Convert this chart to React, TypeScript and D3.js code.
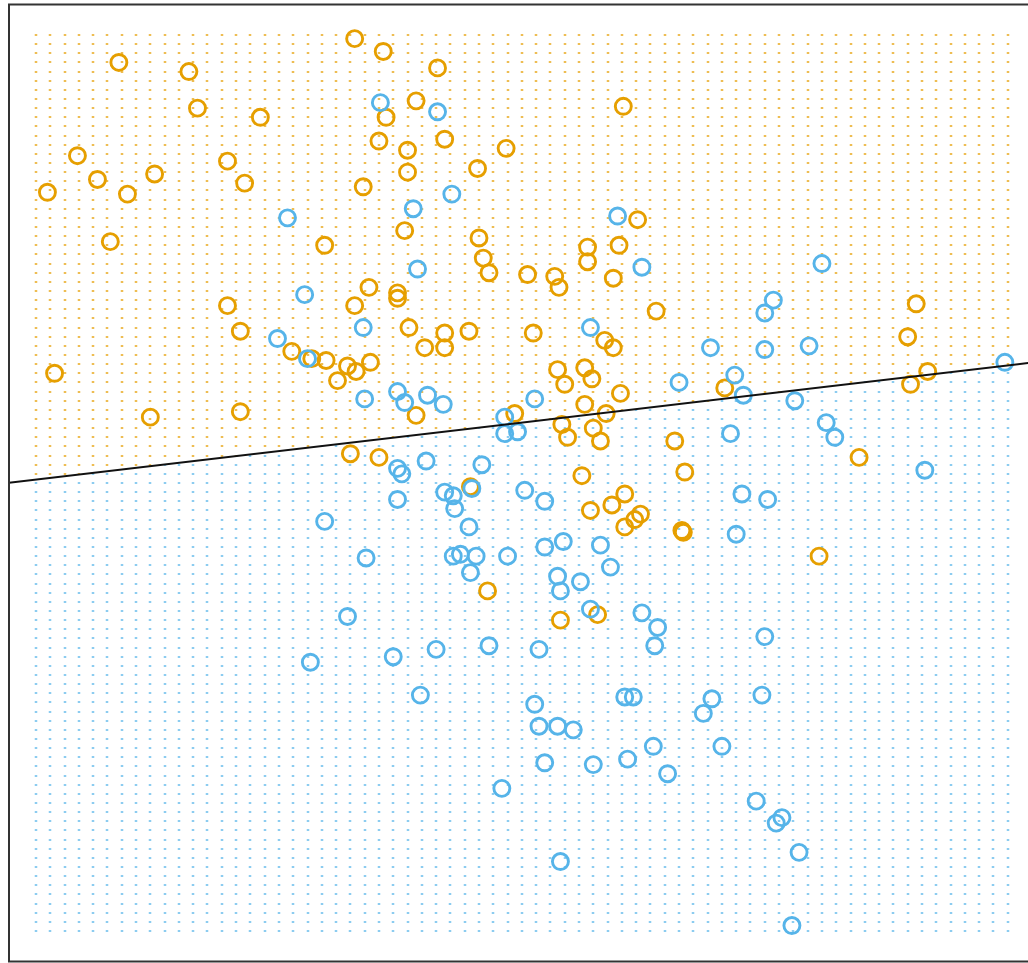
import React from "react";
import * as d3 from "d3";

// Class ORANGE (y = 1) observations: [x1, x2]
const orangeX1 = [
  -0.37, -0.17, -2.02, -1.53, 0.21, -1.47, -1.03, 0.06, 1.51, -0.15,
  -0.2, 0.26, 0.0, 0.0, 0.69, 0.49, -0.31, -2.31, -2.17, -2.52,
  -1.96, -1.77, -1.26, -1.14, -2.08, -0.58, -0.02, 0.5, 0.53, 0.57,
  0.84, 1.03, 1.06, 1.26, 1.26, 1.48, 1.44, 1.61, 1.74, -0.27,
  -0.07, -0.07, -0.37, -1.26, -1.17, 0.01, 0.12, 0.26, 0.26, 0.43,
  0.88, 1.38, 1.44, -0.81, -0.67, -0.57, -0.49, -0.42, -0.36, -0.26,
  -2.47, -1.8, -1.17, 0.06, -0.4, -0.2, 1.05, 1.1, 1.24, 1.29,
  1.49, 0.75, 1.24, 1.39, 1.08, 1.12, 1.3, 1.35, 1.87, 1.94,
  2.22, 1.22, 1.52, 1.43, 1.28, 1.63, 1.59, 1.52, 1.92, 1.93,
  0.44, 0.56, 1.07, 1.33, 2.88, 3.16, 3.56, 3.5, 3.64, 3.52,
];
const orangeX2 = [
  2.88, 2.81, 2.75, 2.7, 2.72, 2.5, 2.45, 2.54, 2.51, 2.45,
  2.32, 2.33, 2.27, 2.15, 2.28, 2.17, 2.07, 2.24, 2.11, 2.04,
  2.03, 2.14, 2.21, 2.09, 1.77, 1.75, 1.83, 1.79, 1.68, 1.6,
  1.59, 1.58, 1.52, 1.74, 1.66, 1.75, 1.57, 1.89, 1.39, 1.52,
  1.49, 1.46, 1.42, 1.42, 1.28, 1.3, 1.19, 1.27, 1.19, 1.28,
  1.27, 1.23, 1.19, 1.17, 1.13, 1.12, 1.01, 1.09, 1.06, 1.11,
  1.05, 0.81, 0.84, 0.82, 0.61, 0.59, 1.07, 0.99, 1.08, 1.02,
  0.94, 0.83, 0.88, 0.83, 0.77, 0.7, 0.75, 0.68, 0.68, 0.51,
  0.97, 0.49, 0.39, 0.33, 0.3, 0.28, 0.25, 0.21, 0.19, 0.18,
  0.43, -0.14, -0.3, -0.27, 0.05, 0.59, 1.43, 1.25, 1.06, 0.99,
];

// Class BLUE (y = 0) observations: [x1, x2]
const blueX1 = [
  -0.19, 0.21, -0.84, 0.31, 0.04, 1.47, 1.64, 0.07, -0.72, -0.91,
  -0.7, -0.31, -0.3, 1.28, 2.9, 2.56, 2.5, 2.12, 2.5, 2.81,
  2.29, 2.35, 1.9, 2.71, 2.93, 2.99, 2.26, 4.18, 3.62, -0.07,
  -0.02, 0.14, 0.25, 0.89, 0.68, 0.77, 0.68, -0.07, -0.04, 0.13,
  0.52, 0.45, -0.07, 0.26, 0.32, 0.33, 0.43, 0.82, 0.96, -0.58,
  -0.29, 0.32, 0.37, 0.48, 0.44, 0.7, 0.96, 1.09, 1.35, 1.42,
  1.05, 1.21, 1.07, 1.28, 2.34, 2.52, 2.3, 1.64, 1.75, 1.73,
  2.5, -0.42, -0.68, -0.1, 0.2, 0.57, 0.92, 0.09, 0.89, 0.92,
  1.05, 1.16, 1.52, 1.58, 2.13, 2.07, 2.48, 1.72, 2.2, 1.54,
  1.3, 0.96, 1.82, 0.66, 2.44, 2.62, 2.58, 2.74, 1.07, 2.69,
];
const blueX2 = [
  2.53, 2.48, 1.9, 2.03, 1.95, 1.91, 1.63, 1.62, 1.48, 1.24,
  1.13, 1.3, 0.91, 1.3, 1.65, 1.45, 1.38, 1.19, 1.18, 1.2,
  1.04, 0.93, 1.0, 0.9, 0.78, 0.7, 0.72, 1.11, 0.52, 0.95,
  0.89, 0.93, 0.88, 0.91, 0.81, 0.73, 0.72, 0.53, 0.5, 0.57,
  0.55, 0.42, 0.36, 0.4, 0.38, 0.31, 0.21, 0.41, 0.35, 0.24,
  0.04, 0.05, 0.06, 0.05, -0.04, 0.05, 0.1, 0.13, 0.11, -0.01,
  -0.06, -0.09, -0.14, -0.24, 0.39, 0.36, 0.17, -0.26, -0.34, -0.44,
  -0.39, -0.28, -0.53, -0.5, -0.46, -0.44, -0.46, -0.71, -0.76, -0.88,
  -0.88, -0.9, -0.72, -0.72, -0.73, -0.81, -0.71, -0.99, -0.99, -1.06,
  -1.09, -1.08, -1.14, -1.22, -1.29, -1.38, -1.41, -1.57, -1.62, -1.97,
];

// Prediction grid (69 x 99 lattice, like px1 / px2 of the mixture example)
const gridX1 = d3.range(69).map((i) => -2.6 + i * 0.1);
const gridX2 = d3.range(99).map((j) => -2.0 + j * 0.05);

// Linear regression decision boundary: x2 = intercept + slope * x1
const boundaryIntercept = 0.707;
const boundarySlope = 0.0919;

const ORANGE = "#E69F00";
const BLUE = "#56B4E9";

export default function App() {
  const W = 1028;
  const H = 963;
  const x = d3.scaleLinear().domain([-2.6, 4.2]).range([36, 1007.7]);
  const y = d3.scaleLinear().domain([-2.0, 2.9]).range([931, 35]);

  const frameLeft = 9;
  const frameTop = 4.5;
  const frameBottom = 961.5;

  const xMin = x.invert(frameLeft);
  const xMax = x.invert(W + 20);
  const boundary = (v: number) => boundaryIntercept + boundarySlope * v;

  const dots: React.ReactNode[] = [];
  gridX1.forEach((a, i) => {
    gridX2.forEach((b, j) => {
      const isOrange = b > boundary(a);
      dots.push(
        <rect
          key={`g${i}-${j}`}
          x={Math.round(x(a)) - 1.25}
          y={Math.round(y(b)) - 0.75}
          width={2.5}
          height={1.5}
          fill={isOrange ? ORANGE : BLUE}
          opacity={0.9}
        />
      );
    });
  });

  const lineGen = d3
    .line<number>()
    .x((v) => x(v))
    .y((v) => y(boundary(v)));

  return (
    <svg
      width={W}
      height={H}
      style={{ position: "absolute", left: 0, top: 0, background: "#fff" }}
    >
      <defs>
        <clipPath id="frame">
          <rect x={frameLeft} y={frameTop} width={W} height={frameBottom - frameTop} />
        </clipPath>
      </defs>
      <g>{dots}</g>
      <g clipPath="url(#frame)">
        {orangeX1.map((v, i) => (
          <circle
            key={`o${i}`}
            cx={x(v)}
            cy={y(orangeX2[i])}
            r={8}
            fill="none"
            stroke={ORANGE}
            strokeWidth={2.9}
          />
        ))}
        {blueX1.map((v, i) => (
          <circle
            key={`b${i}`}
            cx={x(v)}
            cy={y(blueX2[i])}
            r={8}
            fill="none"
            stroke={BLUE}
            strokeWidth={2.9}
          />
        ))}
        <path
          d={lineGen([xMin, xMax]) || ""}
          fill="none"
          stroke="#111"
          strokeWidth={2}
        />
      </g>
      <rect
        x={frameLeft}
        y={frameTop}
        width={W + 10}
        height={frameBottom - frameTop}
        fill="none"
        stroke="#333"
        strokeWidth={2}
      />
    </svg>
  );
}
